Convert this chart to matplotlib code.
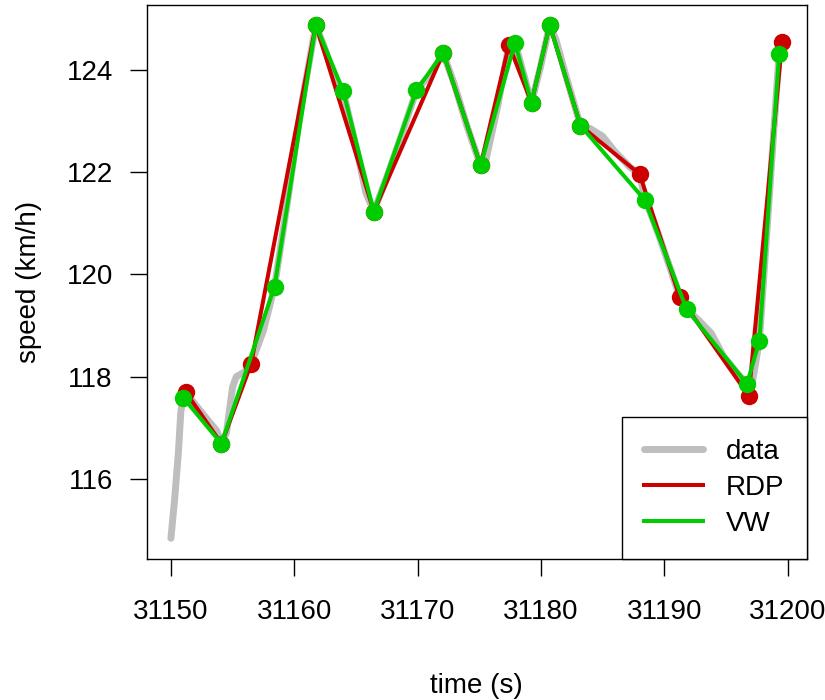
import numpy as np
import matplotlib
matplotlib.use("Agg")
import matplotlib.pyplot as plt

# raw speed trace (time in s, speed in km/h)
data_t = [31150.0, 31150.3, 31150.6, 31150.8, 31151.0, 31151.2, 31152.0, 31153.0,
          31153.7, 31154.1, 31154.5, 31155.0, 31155.3, 31156.0, 31156.5, 31157.5,
          31158.4, 31159.5, 31160.5, 31161.75, 31162.5, 31163.2, 31163.96, 31165.0,
          31165.8, 31166.45, 31167.5, 31168.8, 31169.9, 31171.0, 31172.07, 31173.0,
          31174.0, 31175.1, 31175.5, 31176.5, 31177.4, 31177.9, 31178.5, 31179.23,
          31180.0, 31180.7, 31181.2, 31182.0, 31183.2, 31184.0, 31185.0, 31186.0,
          31187.2, 31188.0, 31188.4, 31189.5, 31190.5, 31191.25, 31191.8, 31192.8,
          31193.8, 31194.8, 31195.8, 31196.7, 31197.0, 31197.7, 31198.5, 31199.3,
          31199.54]
data_v = [114.84, 115.6, 116.5, 117.3, 117.65, 117.70, 117.45, 117.15,
          116.95, 116.72, 116.9, 117.8, 118.0, 118.1, 118.25, 118.9,
          119.76, 121.5, 123.2, 124.88, 124.4, 123.9, 123.59, 122.5,
          121.6, 121.23, 121.9, 122.8, 123.6, 123.9, 124.33, 123.7,
          122.9, 122.13, 122.2, 123.3, 124.49, 124.53, 124.0, 123.36,
          124.1, 124.88, 124.6, 123.9, 122.91, 122.85, 122.7, 122.4,
          122.1, 121.96, 121.5, 120.8, 120.1, 119.55, 119.32, 119.1,
          118.85, 118.4, 118.1, 117.86, 117.7, 118.70, 121.5, 124.31,
          124.54]

# Ramer-Douglas-Peucker simplification
rdp_t = [31151.2, 31154.1, 31156.5, 31161.75, 31166.45, 31172.07, 31175.1, 31177.4,
         31179.23, 31180.7, 31183.2, 31188.0, 31191.25, 31196.84, 31199.54]
rdp_v = [117.70, 116.69, 118.25, 124.88, 121.23, 124.33, 122.13, 124.49,
         123.36, 124.88, 122.91, 121.96, 119.55, 117.63, 124.54]

# Visvalingam-Whyatt simplification
vw_t = [31151.0, 31154.1, 31158.4, 31161.75, 31163.96, 31166.45, 31169.9, 31172.07,
        31175.1, 31177.88, 31179.23, 31180.7, 31183.2, 31188.4, 31191.8, 31196.7,
        31197.7, 31199.3]
vw_v = [117.59, 116.69, 119.76, 124.88, 123.59, 121.23, 123.6, 124.33,
        122.13, 124.53, 123.36, 124.88, 122.91, 121.46, 119.32, 117.86,
        118.70, 124.31]

plt.rcParams['font.family'] = ['Liberation Sans', 'DejaVu Sans']
plt.rcParams['font.size'] = 20

fig = plt.figure(figsize=(8.25, 7), dpi=100)
ax = fig.add_axes([0.178, 0.201, 0.800, 0.792])

ax.plot(data_t, data_v, color='#BEBEBE', lw=5, solid_capstyle='round',
        solid_joinstyle='round', label='data')
ax.plot(rdp_t, rdp_v, color='#CD0000', lw=2.9, label='RDP')
ax.plot(rdp_t, rdp_v, 'o', color='#CD0000', ms=11.5)
ax.plot(vw_t, vw_v, color='#00CD00', lw=2.9, label='VW')
ax.plot(vw_t, vw_v, 'o', color='#00CD00', ms=11.5)

ax.set_xlim(31148.05, 31201.55)
ax.set_ylim(114.43, 125.27)
ax.set_xticks([31150, 31160, 31170, 31180, 31190, 31200])
ax.set_yticks([116, 118, 120, 122, 124])
ax.tick_params(direction='out', length=12.5, width=1)
ax.tick_params(axis='x', pad=16)
ax.tick_params(axis='y', pad=12)
for s in ax.spines.values():
    s.set_linewidth(1)

ax.set_xlabel('time (s)', labelpad=35)
ax.set_ylabel('speed (km/h)', labelpad=17.5)

leg = ax.legend(loc='lower right', borderaxespad=0, fancybox=False,
                edgecolor='black', framealpha=1, handlelength=2.1,
                handletextpad=0.85, labelspacing=0.36, borderpad=0.8)
leg.get_frame().set_linewidth(1)

fig.savefig('out.png', dpi=100)
